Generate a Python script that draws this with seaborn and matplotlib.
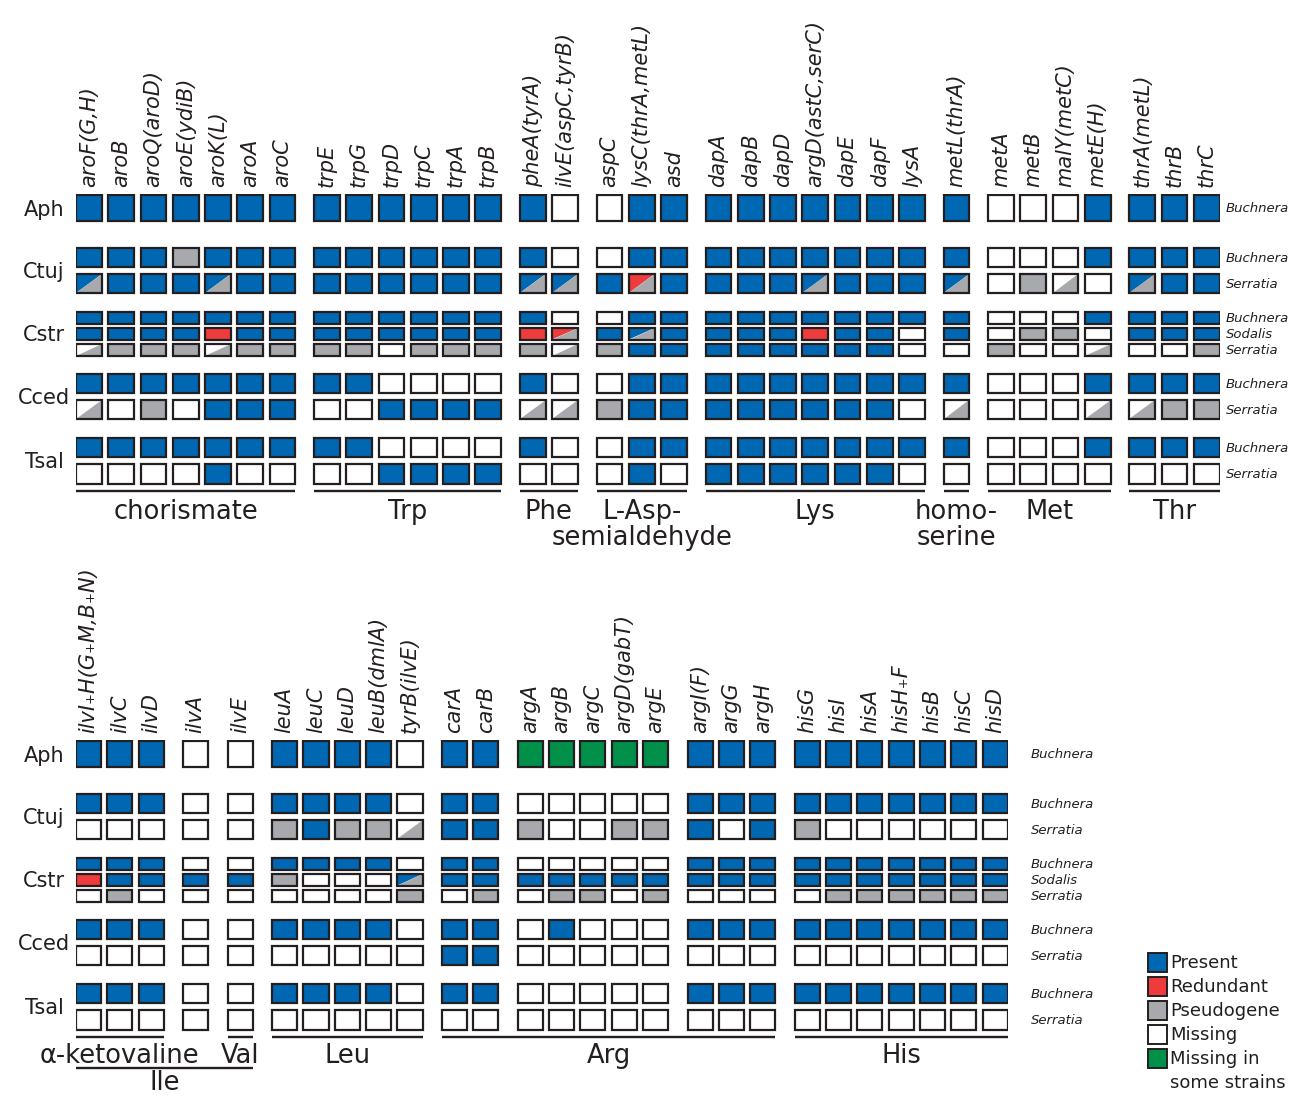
import matplotlib.pyplot as plt
from matplotlib.patches import Rectangle, Polygon
import seaborn as sns

sns.set_theme(style="white")
plt.rcParams['font.family'] = ['DejaVu Sans']

# Cell codes: P present, R redundant, X pseudogene, M missing, G missing in some strains
# split cells (upper-left / lower-right): b present/pseudo, w missing/pseudo, r redundant/pseudo
species = ['Aph', 'Ctuj', 'Cstr', 'Cced', 'Tsal']
symbionts = [['Buchnera'],
             ['Buchnera', 'Serratia'],
             ['Buchnera', 'Sodalis', 'Serratia'],
             ['Buchnera', 'Serratia'],
             ['Buchnera', 'Serratia']]

# ---- top panel ----
top_genes = [
    ['aroF(G,H)', 'aroB', 'aroQ(aroD)', 'aroE(ydiB)', 'aroK(L)', 'aroA', 'aroC'],
    ['trpE', 'trpG', 'trpD', 'trpC', 'trpA', 'trpB'],
    ['pheA(tyrA)', 'ilvE(aspC,tyrB)'],
    ['aspC', 'lysC(thrA,metL)', 'asd'],
    ['dapA', 'dapB', 'dapD', 'argD(astC,serC)', 'dapE', 'dapF', 'lysA'],
    ['metL(thrA)'],
    ['metA', 'metB', 'malY(metC)', 'metE(H)'],
    ['thrA(metL)', 'thrB', 'thrC'],
]
top_labels = [('chorismate', 0, 0, 0), ('Trp', 1, 1, 0), ('Phe', 2, 2, 0),
              ('L-Asp-\nsemialdehyde', 3, 3, 0), ('Lys', 4, 4, 0),
              ('homo-\nserine', 5, 5, 0), ('Met', 6, 6, 0), ('Thr', 7, 7, 0)]
top_status = [
    ['PPPPPPP PPPPPP PM MPP PPPPPPP P MMMP PPP'],
    ['PPPXPPP PPPPPP PM MPP PPPPPPP P MMMP PPP',
     'bPPPbPP PPPPPP bb PrP PPPbPPP b MXwM bPP'],
    ['PPPPPPP PPPPPP PM MPP PPPPPPP P MMMP PPP',
     'PPPPRPP PPPPPP Rr PbP PPPRPPM P MXXM PPP',
     'wXXXwXX XXMXXX Xw XPP PPPPPPM M XMMw MMX'],
    ['PPPPPPP PPMMMM PM MPP PPPPPPP P MMMP PPP',
     'wMXMPPP MMPPPP ww XPP PPPPPPM w MMMw wXX'],
    ['PPPPPPP PPMMMM PM MPP PPPPPPP P MMMP PPP',
     'MMMMPMM MMPPPP MM MPM PPPPPPM M MMMM MMM'],
]

# ---- bottom panel ----
bot_genes = [
    ['ilvI₊H(G₊M,B₊N)', 'ilvC', 'ilvD'],
    ['ilvA'],
    ['ilvE'],
    ['leuA', 'leuC', 'leuD', 'leuB(dmlA)', 'tyrB(ilvE)'],
    ['carA', 'carB'],
    ['argA', 'argB', 'argC', 'argD(gabT)', 'argE'],
    ['argI(F)', 'argG', 'argH'],
    ['hisG', 'hisI', 'hisA', 'hisH₊F', 'hisB', 'hisC', 'hisD'],
]
bot_labels = [('α-ketovaline', 0, 0, 0), ('Val', 2, 2, 0), ('Leu', 3, 3, 0),
              ('Arg', 4, 6, 0), ('His', 7, 7, 0), ('Ile', 0, 2, 1)]
bot_status = [
    ['PPP M M PPPPM PP GGGGG PPP PPPPPPP'],
    ['PPP M M PPPPM PP MMMMM PPP PPPPPPP',
     'MMM M M XPXXw PP XMMXX PMP XMMMMMM'],
    ['PPP M M PPPPM PP MMMMM PPP PPPPPPP',
     'RPP P P XMMMb PP PPPPP PPP PPPPPPP',
     'MXM M M MMMMX MX MXXMX MMM MXXXXXX'],
    ['PPP M M PPPPM PP MPMMM PPP PPPPPPP',
     'MMM M M MMMMM PP MMMMM MMM MMMMMMM'],
    ['PPP M M PPPPM PP MMMMM PPP PPPPPPP',
     'MMM M M MMMMM MM MMMMM MMM MMMMMMM'],
]

legend_labels = ['Present', 'Redundant', 'Pseudogene', 'Missing', 'Missing in\nsome strains']

# colours
BLUE, RED, GREY, WHITE, GREEN = '#0068B3', '#EE3B3B', '#A7A9AC', 'white', '#00904A'
EDGE = '#231F20'
FILL = {'P': BLUE, 'R': RED, 'X': GREY, 'M': WHITE, 'G': GREEN}
SPLIT = {'b': BLUE, 'w': WHITE, 'r': RED}

# row layout (pixels below the panel top): (top, height) per symbiont row
ROWS = [[(1, 26)],
        [(54, 19), (80, 19)],
        [(118, 11.5), (134, 11.5), (150, 11.5)],
        [(180, 19), (206, 19)],
        [(244, 19), (270, 19.5)]]
LINE_Y = 297
CELL_W = 0.8
LW = 1.6

W, H = 1291, 1097
fig = plt.figure(figsize=(W / 100, H / 100), dpi=100)


def px_axes(x0, y0, x1, y1):
    return fig.add_axes([x0 / W, 1 - y1 / H, (x1 - x0) / W, (y1 - y0) / H])


def draw_cell(ax, x, y, w, h, code):
    if code in SPLIT:
        ax.add_patch(Polygon([(x, y), (x + w, y), (x, y + h)], closed=True,
                             facecolor=SPLIT[code], lw=0))
        ax.add_patch(Polygon([(x + w, y), (x + w, y + h), (x, y + h)], closed=True,
                             facecolor=GREY, lw=0))
        ax.add_patch(Rectangle((x, y), w, h, facecolor='none', edgecolor=EDGE, lw=LW))
    else:
        ax.add_patch(Rectangle((x, y), w, h, facecolor=FILL[code], edgecolor=EDGE, lw=LW))


def draw_panel(genes, status, labels, left, top, pitch, gap, sym_offset_px, base):
    # x position of every column, in column units
    xs, group_span = [], []
    k = 0
    for gi, grp in enumerate(genes):
        start = k + gi * gap
        for j in range(len(grp)):
            xs.append(k + gi * gap)
            k += 1
        group_span.append((start, xs[-1] + CELL_W))
    names = [g for grp in genes for g in grp]
    xmax = xs[-1] + CELL_W
    ax = px_axes(left, top, left + xmax * pitch, top + 300)
    ax.set_xlim(0, xmax)
    ax.set_ylim(300, 0)
    ax.axis('off')

    for x, name in zip(xs, names):
        ax.text(x + CELL_W / 2, -7, name, rotation=90, ha='center', va='bottom',
                fontsize=15, fontstyle='italic', color=EDGE, clip_on=False)

    for si, sp in enumerate(species):
        rows = ROWS[si]
        y_top = rows[0][0]
        y_bot = rows[-1][0] + rows[-1][1]
        ax.text(-32 / pitch, (y_top + y_bot) / 2 + 7.5, sp, ha='center', va='baseline',
                fontsize=15, color=EDGE, clip_on=False)
        for ri, (y, h) in enumerate(rows):
            codes = status[si][ri].replace(' ', '')
            for x, c in zip(xs, codes):
                draw_cell(ax, x, y, CELL_W, h, c)
            ax.text(xmax + sym_offset_px / pitch, y + h / 2 + 4.5, symbionts[si][ri],
                    ha='left', va='baseline', fontsize=9.5, fontstyle='italic',
                    color=EDGE, clip_on=False)

    for text, g0, g1, level in labels:
        x0, x1 = group_span[g0][0], group_span[g1][1]
        ly = LINE_Y + 31 * level
        ax.plot([x0, x1], [ly, ly], color=EDGE, lw=1.7, clip_on=False,
                solid_capstyle='butt')
        for li, line in enumerate(text.split('\n')):
            ax.text((x0 + x1) / 2, base + 26 * li + 27 * level, line, ha='center',
                    va='baseline', fontsize=18.5, color=EDGE, clip_on=False)
    return ax


ax_top = draw_panel(top_genes, top_status, top_labels, 76, 194, 32.25, 0.38, 6, 325)
ax_bot = draw_panel(bot_genes, bot_status, bot_labels, 76, 740, 31.33, 0.42, 23, 323)

# legend
ax_leg = px_axes(1140, 945, 1291, 1097)
ax_leg.set_xlim(0, 151)
ax_leg.set_ylim(152, 0)
ax_leg.axis('off')
for i, (lab, col) in enumerate(zip(legend_labels, [BLUE, RED, GREY, WHITE, GREEN])):
    ax_leg.add_patch(Rectangle((8, 8 + 24 * i), 19, 19, facecolor=col,
                               edgecolor=EDGE, lw=1.4))
    for li, line in enumerate(lab.split('\n')):
        ax_leg.text(30, 17 + 24 * (i + li) + 6.5, line, ha='left', va='baseline',
                    fontsize=13, color=EDGE)

fig.savefig('out.png', dpi=100)
